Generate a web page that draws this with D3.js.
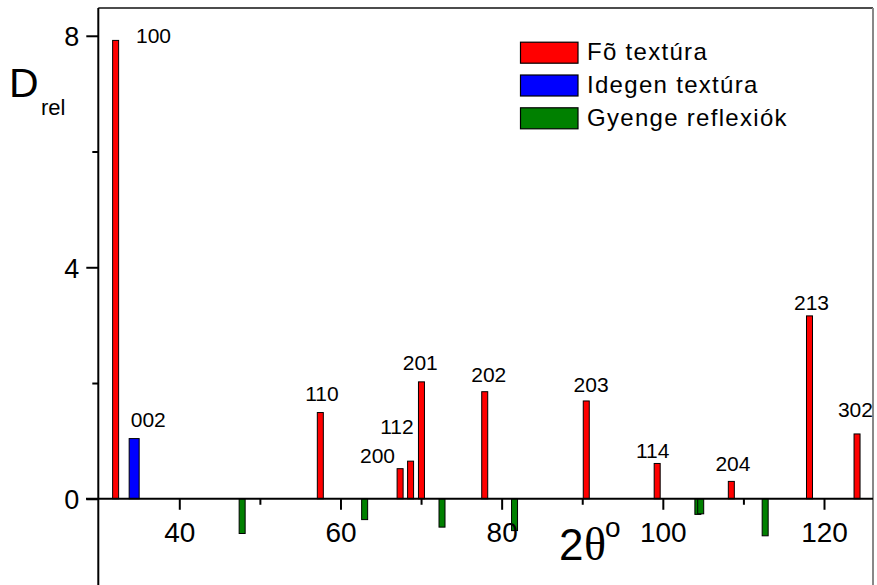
<!DOCTYPE html>
<html>
<head>
<meta charset="utf-8">
<script src="https://cdn.jsdelivr.net/npm/d3@7"></script>
<style>
  html, body { margin: 0; padding: 0; background: #fff; }
  svg { display: block; }
  text { font-family: "Liberation Sans", Arial, sans-serif; fill: #000; }
</style>
</head>
<body>
<svg id="chart" width="877" height="585"></svg>
<script>
// ---- data ----
const mainPos    = [32.1, 57.5, 67.4, 68.7, 70.05, 77.9, 90.5, 99.3, 108.5, 118.2, 124.1];
const mainVal    = [7.92, 1.49, 0.52, 0.65, 2.02, 1.85, 1.69, 0.61, 0.30, 3.16, 1.12];
const mainLabels = ["100", "110", "200", "112", "201", "202", "203", "114", "204", "213", "302"];
const mainLabelX = [36.8, 57.7, 64.6, 67.0, 69.9, 78.4, 91.1, 98.75, 108.7, 118.45, 123.9];
const mainLabelY = [7.88, 1.69, 0.62, 1.12, 2.22, 2.01, 1.85, 0.70, 0.48, 3.26, 1.42];

const foreignPos    = [34.4];
const foreignVal    = [1.04];
const foreignLabels = ["002"];
const foreignLabelX = [36.15];
const foreignLabelY = [1.24];

const weakPos = [47.8, 63.0, 72.6, 81.6, 104.35, 104.7, 112.7];
const weakVal = [-0.60, -0.36, -0.49, -0.55, -0.27, -0.26, -0.64];

const xMajorTicks = [40, 60, 80, 100, 120];
const xMinorTicks = [50, 70, 90, 110];
const yMajorTicks = [0, 4, 8];
const yMinorTicks = [2, 6];

const legendNames  = ["Fõ textúra", "Idegen textúra", "Gyenge reflexiók"];
const legendColors = ["#ff0000", "#0000ff", "#008000"];

// ---- layout ----
const svg = d3.select("#chart");
const pLeft = 98.3, pRight = 873, pTop = 8, pBottom = 585;
const x = d3.scaleLinear().domain([29.95, 126.08]).range([pLeft, pRight]);
const y = d3.scaleLinear().domain([-1.49, 8.48]).range([pBottom, pTop]);
const y0 = y(0);

// frame
svg.append("line").attr("x1", pLeft).attr("x2", pRight).attr("y1", pTop).attr("y2", pTop)
  .attr("stroke", "#111").attr("stroke-width", 1.5);
svg.append("line").attr("x1", pRight).attr("x2", pRight).attr("y1", pTop).attr("y2", pBottom)
  .attr("stroke", "#888").attr("stroke-width", 2);

// bars
function drawBars(pos, val, color, w) {
  svg.append("g").selectAll("rect").data(pos.map((p, i) => [p, val[i]])).join("rect")
    .attr("x", d => x(d[0]) - w / 2)
    .attr("y", d => Math.min(y(d[1]), y0))
    .attr("width", w)
    .attr("height", d => Math.abs(y(d[1]) - y0))
    .attr("fill", color)
    .attr("stroke", "#000")
    .attr("stroke-width", 1);
}
drawBars(mainPos, mainVal, legendColors[0], 6);
drawBars(foreignPos, foreignVal, legendColors[1], 10);
drawBars(weakPos, weakVal, legendColors[2], 6);

// bar labels
function drawLabels(lbl, lx, ly) {
  svg.append("g").selectAll("text").data(lbl.map((t, i) => [t, lx[i], ly[i]])).join("text")
    .attr("x", d => x(d[1])).attr("y", d => y(d[2]))
    .attr("text-anchor", "middle").attr("font-size", 21)
    .text(d => d[0]);
}
drawLabels(mainLabels, mainLabelX, mainLabelY);
drawLabels(foreignLabels, foreignLabelX, foreignLabelY);

// x axis
const xAxis = svg.append("g").attr("transform", `translate(0,${y0})`);
xAxis.append("line").attr("x1", 86).attr("x2", pRight).attr("y1", 0).attr("y2", 0)
  .attr("stroke", "#000").attr("stroke-width", 2);
const xa = xAxis.append("g").call(d3.axisBottom(x).tickValues(xMajorTicks).tickSize(11).tickFormat(d3.format("d")));
xa.select(".domain").remove();
xa.selectAll(".tick line").attr("stroke", "#000").attr("stroke-width", 2);
xa.selectAll(".tick text").attr("font-size", 28).attr("font-family", "Liberation Sans, Arial, sans-serif")
  .attr("y", 43).attr("dy", 0);
const xm = xAxis.append("g").call(d3.axisBottom(x).tickValues(xMinorTicks).tickSize(6).tickFormat(""));
xm.select(".domain").remove();
xm.selectAll(".tick line").attr("stroke", "#000").attr("stroke-width", 2);

// y axis
const yAxis = svg.append("g").attr("transform", `translate(${pLeft},0)`);
yAxis.append("line").attr("x1", 0).attr("x2", 0).attr("y1", pTop).attr("y2", pBottom)
  .attr("stroke", "#000").attr("stroke-width", 2);
const ya = yAxis.append("g").call(d3.axisLeft(y).tickValues(yMajorTicks).tickSize(12).tickPadding(7).tickFormat(d3.format("d")));
ya.select(".domain").remove();
ya.selectAll(".tick line").attr("stroke", "#000").attr("stroke-width", 2);
ya.selectAll(".tick text").attr("font-size", 27).attr("font-family", "Liberation Sans, Arial, sans-serif")
  .attr("dy", "0.36em");
const ym = yAxis.append("g").call(d3.axisLeft(y).tickValues(yMinorTicks).tickSize(6).tickFormat(""));
ym.select(".domain").remove();
ym.selectAll(".tick line").attr("stroke", "#000").attr("stroke-width", 2);

// axis titles
const xt = svg.append("g");
xt.append("text").attr("x", 559).attr("y", 560).attr("font-size", 44).text("2");
xt.append("text").attr("x", 584).attr("y", 560).attr("font-size", 46)
  .style("font-family", "'Liberation Serif', 'Times New Roman', serif").text("θ");
xt.append("text").attr("x", 605).attr("y", 537).attr("font-size", 28).text("o");

const yt = svg.append("g");
yt.append("text").attr("x", 9).attr("y", 97).attr("font-size", 41).text("D");
yt.append("text").attr("x", 41).attr("y", 115).attr("font-size", 22).text("rel");

// legend
const lg = svg.append("g");
const lgItems = lg.selectAll("g").data(legendNames.map((n, i) => [n, legendColors[i]])).join("g")
  .attr("transform", (d, i) => `translate(520,${41.7 + i * 32.8})`);
lgItems.append("rect").attr("x", 0.5).attr("y", 0.5).attr("width", 57.5).attr("height", 21)
  .attr("fill", d => d[1]).attr("stroke", "#000").attr("stroke-width", 1.2);
lgItems.append("text").attr("x", 67).attr("y", 18.5).attr("font-size", 24)
  .attr("letter-spacing", 1.3).text(d => d[0]);
</script>
</body>
</html>
